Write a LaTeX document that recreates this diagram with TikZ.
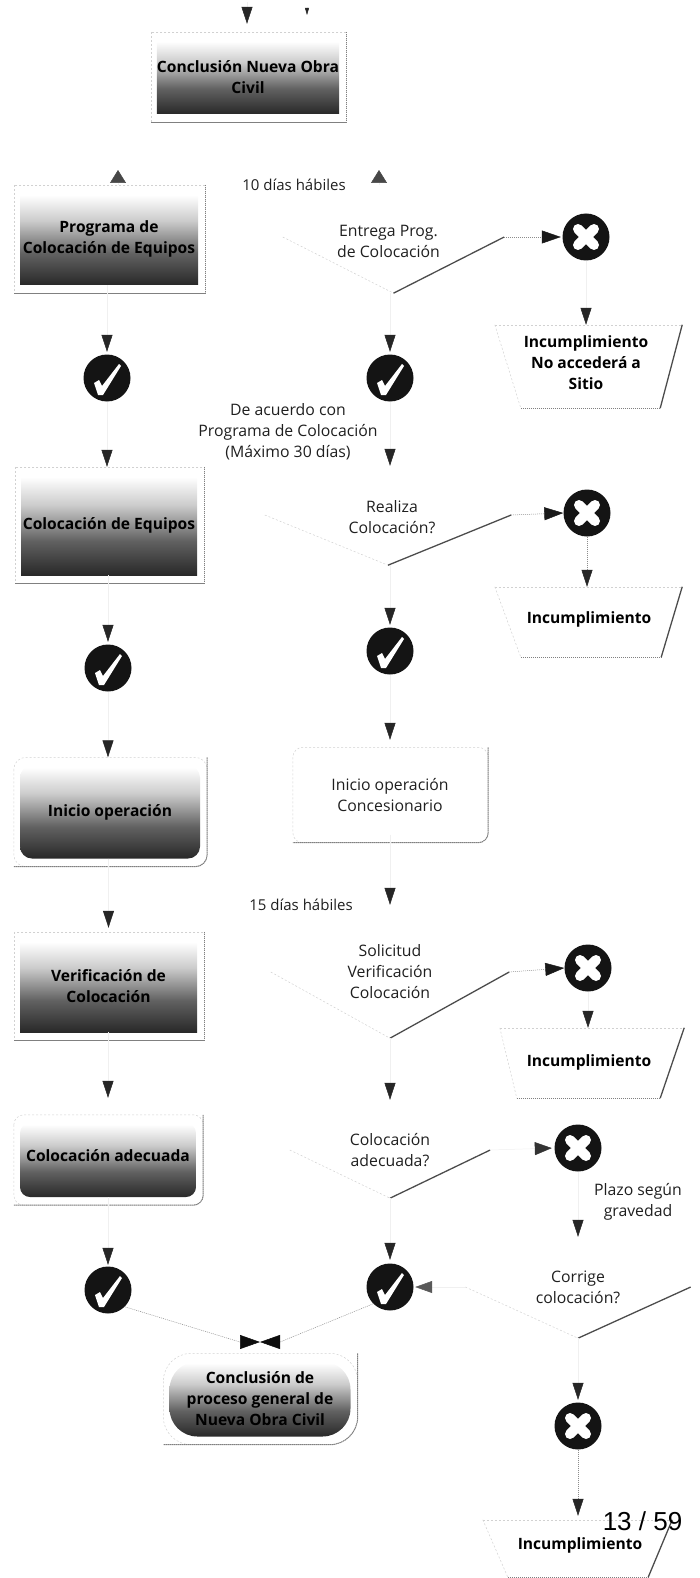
\documentclass[tikz,border=0pt]{standalone}
\usepackage{fontspec}
\setmainfont{Open Sans}
\newfontfamily\pagefont{Liberation Sans}
\usetikzlibrary{arrows.meta,shapes.geometric}
\definecolor{ink}{gray}{0.12}
\pgfdeclareverticalshading{gradbox}{100bp}{color(0bp)=(black!96); color(22bp)=(black!88); color(42bp)=(black!62); color(60bp)=(black!20); color(74bp)=(white); color(100bp)=(white)}
\tikzset{
  x=1pt,y=-1pt,
  base/.style={font=\fontsize{15.8}{21}\selectfont,align=center,text=ink,inner sep=0pt},
  timelbl/.style={base,font=\fontsize{15}{21}\selectfont},
  strong/.style={base,font=\fontsize{15.6}{21}\selectfont\bfseries,text=black},
  gb/.style={strong,shading=gradbox,rectangle},
  plainbox/.style={base,rectangle},
  lbl/.style={base},
  dia/.style n args={3}{diamond,inner sep=0pt,minimum width=#1 pt,minimum height=#2 pt,shape aspect=#3},
  trapbox/.style={rectangle,inner sep=0pt},
  okc/.style={circle,fill=black!92,minimum size=47pt,inner sep=0pt,
    path picture={\fill[white,shift={(path picture bounding box.center)}]
      (-13,5)--(-8,2)--(-5,8)--(12,-14)--(14,-12)--(-4,17)--(-9,17)--cycle;}},
  noc/.style={circle,fill=black!92,minimum size=47pt,inner sep=0pt,
    path picture={\draw[white,line width=10pt,line cap=round,shift={(path picture bounding box.center)}]
      (-8,-8)--(8,8) (8,-8)--(-8,8);}},
  conn/.style={draw=black!6,line width=.5pt,-{Triangle[length=17pt,width=11pt,color=black!85]}},
  connv/.style={conn,draw=black!45,dash pattern=on 1pt off 1pt},
  connside/.style={connv,-{Triangle[length=19pt,width=13pt,color=black!90]}},
  bowc/.style={connv,-{Triangle[length=20pt,width=14pt,color=black!95]}},
  tipup/.style={draw=black!6,line width=.5pt,-{Triangle[length=13pt,width=16pt,color=black!72]}},
  lite/.style={draw=black!18,line width=.5pt,dash pattern=on 2pt off 2pt},
  edgeline/.style={draw=black!50,line width=1pt,dash pattern=on 1.5pt off .5pt},
  darkedge/.style={draw=black!70,line width=1.3pt},
}
\newcommand\frm[2][]{%
  \draw[lite,#1] ([shift={(-6,-8)}]#2.north west) rectangle ([shift={(7,8)}]#2.south east);
  \draw[edgeline,#1] ([shift={(7,-8)}]#2.north east) -- ([shift={(7,8)}]#2.south east) -- ([shift={(-6,8)}]#2.south west);}
\newcommand\dedges[1]{%
  \draw[lite] (#1.west) -- (#1.south);
  \draw[darkedge] (#1.south) -- (#1.east);}
\newcommand\trap[3]{%
  \draw[lite] (#1.north west) -- (#1.north east);
  \draw[lite] (#1.north west) -- ([xshift=#2 pt]#1.south west);
  \draw[edgeline] ([xshift=#2 pt]#1.south west) -- ([xshift=-#3 pt]#1.south east);
  \draw[darkedge] (#1.north east) -- ([xshift=-#3 pt]#1.south east);}
\begin{document}
\begin{tikzpicture}
\useasboundingbox (0,0) rectangle (699,1578);
% process boxes
\node[gb,minimum width=176pt,minimum height=74pt] (a) at (248,77) {Conclusión Nueva Obra\\Civil};
\node[gb,minimum width=178pt,minimum height=92pt] (b) at (109,239) {Programa de\\Colocación de Equipos};
\node[gb,minimum width=176pt,minimum height=100pt] (c) at (109,525) {Colocación de Equipos};
\node[gb,rounded corners=12pt,minimum width=180pt,minimum height=93pt] (ic) at (110,812) {Inicio operación};
\node[plainbox,rounded corners=10pt,minimum width=182pt,minimum height=79pt] (ic2) at (390,795) {Inicio operación\\Concesionario};
\node[gb,minimum width=177pt,minimum height=92pt] (v) at (108.5,986) {Verificación de\\Colocación};
\node[gb,rounded corners=10pt,minimum width=176pt,minimum height=74pt] (ca) at (108,1160) {\raisebox{8pt}{Colocación adecuada}};
\node[gb,rounded corners=28pt,minimum width=181pt,minimum height=75pt] (end) at (260,1399) {Conclusión de\\proceso general de\\Nueva Obra Civil};
\frm{a}\frm{b}\frm{c}\frm[rounded corners=12pt]{ic}\frm[rounded corners=10pt]{ic2}\frm{v}\frm[rounded corners=10pt]{ca}\frm[rounded corners=28pt]{end}
% decisions
\node[dia={221}{112}{1.97}] (d1) at (393.5,237) {};
\node[lbl] (d1t) at ([shift={(-5pt,-4pt)}]d1.center) {Entrega Prog.\\de Colocación};
\node[dia={246}{100}{2.46}] (d2) at (388,515) {};
\node[lbl] (d2t) at ([shift={(4pt,-2pt)}]d2.center) {Realiza\\Colocación?};
\node[dia={238}{132}{1.8}] (d3) at (390,972) {};
\node[lbl] (d3t) at (d3.center) {Solicitud\\Verificación\\Colocación};
\node[dia={200}{96}{2.08}] (d4) at (390,1150) {};
\node[lbl] (d4t) at (d4.center) {Colocación\\adecuada?};
\node[dia={225}{102}{2.2}] (d5) at (578,1287) {};
\node[lbl] (d5t) at (d5.center) {Corrige\\colocación?};
\dedges{d1}\dedges{d2}\dedges{d3}\dedges{d4}\dedges{d5}
% outcomes
\node[okc] (ok1) at (107,378) {};
\node[okc] (ok2) at (390,378) {};
\node[okc] (ok3) at (108,668) {};
\node[okc] (ok4) at (390,651) {};
\node[okc] (ok5) at (108,1290) {};
\node[okc] (ok6) at (390,1287) {};
\node[noc] (x1) at (586,237) {};
\node[noc] (x2) at (587,513) {};
\node[noc] (x3) at (588,968) {};
\node[noc] (x4) at (578,1148) {};
\node[noc] (x5) at (578,1426) {};
% non-compliance boxes
\node[trapbox,minimum width=187pt,minimum height=83pt] (t1) at (588.5,366.5) {};
\node[strong,fill=none] (t1t) at (586,362.5) {Incumplimiento\\No accederá a\\Sitio};
\node[trapbox,minimum width=187pt,minimum height=70pt] (t2) at (588.5,622) {};
\node[strong] (t2t) at (589,619) {Incumplimiento};
\node[trapbox,minimum width=184pt,minimum height=70pt] (t3) at (592,1063) {};
\node[strong] (t3t) at (589,1062) {Incumplimiento};
\node[trapbox,minimum width=189pt,minimum height=57pt] (t4) at (577.5,1548.5) {};
\node[strong] (t4t) at (580,1545) {Incumplimiento};
\trap{t1}{26}{22}\trap{t2}{26}{21}\trap{t3}{17}{24}\trap{t4}{25}{24}
% free labels
\node[timelbl] (l1) at (294,185) {10 días hábiles};
\node[lbl] (l2) at (288,432) {De acuerdo con\\Programa de Colocación\\(Máximo 30 días)};
\node[timelbl] (l3) at (301,905) {15 días hábiles};
\node[lbl] (l4) at (638,1202) {Plazo según\\gravedad};
\node[font=\pagefont\fontsize{26}{26}\selectfont,inner sep=0pt,text=black] (pg) at (642.5,1521) {13 / 59};
% free ends
\coordinate (top) at (247,2);
\coordinate (tick0) at (307,7);
\coordinate (tick1) at (307,15);
\coordinate (bu) at (118,185);
\coordinate (bt) at (118,170);
\coordinate (du) at (379,185);
\coordinate (dt) at (379,170);
\coordinate (bl0) at (240,1342);
\coordinate (bl) at (260,1342);
\coordinate (br0) at (280,1342);
% connectors
\draw[conn,shorten >=16pt] (top) -- (a.north -| top);
\draw[conn,-{Triangle[length=7pt,width=4pt,color=black!85]}] (tick0) -- (tick1);
\draw[tipup] (bu) -- (bt);
\draw[tipup] (du) -- (dt);
\draw[conn,shorten >=2.5pt] (b.south -| ok1) -- (ok1.north);
\draw[conn,shorten >=2.5pt] (d1.south -| ok2) -- (ok2.north);
\draw[connside,shorten >=1.5pt] (d1.east) -- (x1.west);
\draw[conn] (x1.south) -- (t1.north -| x1);
\draw[conn,shorten >=8pt] (ok1.south) -- (c.north -| ok1);
\draw[conn,shorten >=-1pt] (ok2.south) -- (d2.north -| ok2);
\draw[connside] (d2.east) -- (x2.west);
\draw[connv] (x2.south) -- (t2.north -| x2);
\draw[conn,shorten >=2.5pt] (c.south -| ok3) -- (ok3.north);
\draw[conn,shorten >=2.5pt] (d2.south -| ok4) -- (ok4.north);
\draw[conn,shorten >=8pt] (ok3.south) -- (ic.north -| ok3);
\draw[conn,shorten >=15.5pt] (ok4.south) -- (ic2.north -| ok4);
\draw[conn,shorten >=12pt] (ic.south -| v) -- (v.north);
\draw[conn,shorten >=1pt] (ic2.south -| d3) -- (d3.north);
\draw[connside] (d3.east) -- (x3.west);
\draw[conn] (x3.south) -- (t3.north -| x3);
\draw[conn,shorten >=25pt] (v.south -| ca) -- (ca.north);
\draw[conn,shorten >=2pt] (d3.south -| ok6) -- (d4.north -| ok6);
\draw[conn,-{Triangle[length=17pt,width=13pt,color=black!80]},shorten >=2.5pt] (d4.east) -- (x4.west);
\draw[conn,shorten >=-1pt] (x4.south) -- (d5.north);
\draw[conn,shorten >=1.5pt] (ca.south -| ok5) -- (ok5.north);
\draw[conn,shorten >=3.5pt] (d4.south -| ok6) -- (ok6.north);
\draw[conn,shorten >=1.5pt,-{Triangle[length=17pt,width=12pt,color=black!65]}] (d5.west) -- (ok6.east);
\draw[bowc] (ok5.south east) -- (bl0) -- (bl);
\draw[bowc] (ok6.south west) -- (br0) -- (bl);
\draw[conn,shorten >=2.5pt] (d5.south -| x5) -- (x5.north);
\draw[connv,shorten >=4pt] (x5.south) -- (t4.north -| x5);
\end{tikzpicture}
\end{document}
